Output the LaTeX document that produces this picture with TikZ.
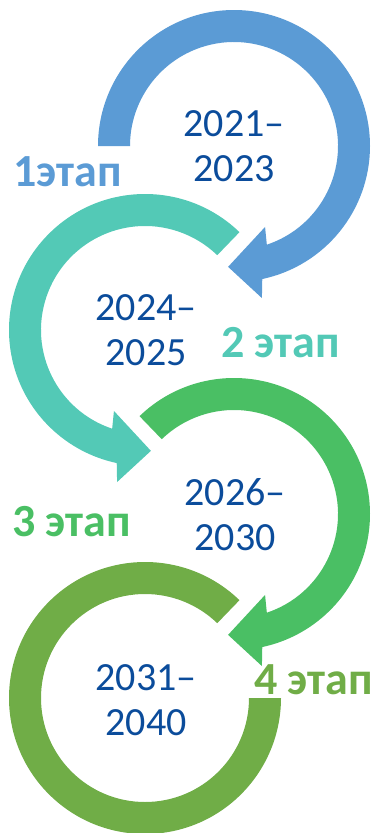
\documentclass[tikz,border=0pt]{standalone}
\usepackage{fontspec}
\setmainfont{Carlito}
\definecolor{cblue}{HTML}{5B9BD5}
\definecolor{cteal}{HTML}{53C9B6}
\definecolor{cgreen}{HTML}{4ABF64}
\definecolor{colive}{HTML}{70AD47}
\definecolor{ctext}{HTML}{0B4C9B}
\begin{document}
\begin{tikzpicture}[x=1pt,y=1pt,
  years/.style={text=ctext,align=center,inner sep=0pt,font=\fontsize{40}{45}\selectfont},
  stage/.style={anchor=base west,inner sep=0pt,font=\fontsize{46}{50}\selectfont\bfseries}]
\useasboundingbox (0,0) rectangle (376,-833);
% arrow 1 (clockwise)
\begin{scope}[shift={(234,-146)}]
\fill[cblue] (180:136) arc[start angle=180,end angle=-78,radius=136]
  -- (-79.6:154.6) -- (-92.8:121) -- (-69:86.7) -- (-71.6:104)
  arc[start angle=-71.6,end angle=180,radius=104] -- cycle;
\end{scope}
% arrow 2 (counter-clockwise)
\begin{scope}[shift={(145,-330)}]
\fill[cteal] (46:136) arc[start angle=46,end angle=258,radius=136]
  -- (259.6:154.6) -- (272.8:121) -- (249:86.7) -- (251.6:104)
  arc[start angle=251.6,end angle=46,radius=104] -- cycle;
\end{scope}
% arrow 3 (clockwise)
\begin{scope}[shift={(234,-514)}]
\fill[cgreen] (134:136) arc[start angle=134,end angle=-78,radius=136]
  -- (-79.6:154.6) -- (-92.8:121) -- (-69:86.7) -- (-71.6:104)
  arc[start angle=-71.6,end angle=134,radius=104] -- cycle;
\end{scope}
% ring 4
\begin{scope}[shift={(145,-698)}]
\fill[colive] (46:136) arc[start angle=46,end angle=360,radius=136]
  -- (360:104) arc[start angle=360,end angle=46,radius=104] -- cycle;
\end{scope}
\node[years] (y1) at (234,-146) {2021–\\2023};
\node[years] (y2) at (146,-330) {2024–\\2025};
\node[years] (y3) at (235,-515) {2026–\\2030};
\node[years] (y4) at (146,-700) {2031–\\2040};
\node[stage,text=cblue] (s1) at (13,-186) {1этап};
\node[stage,text=cteal] (s2) at (221,-357) {2 этап};
\node[stage,text=cgreen] (s3) at (12,-536) {3 этап};
\node[stage,text=colive] (s4) at (254,-694) {4 этап};
\end{tikzpicture}
\end{document}
